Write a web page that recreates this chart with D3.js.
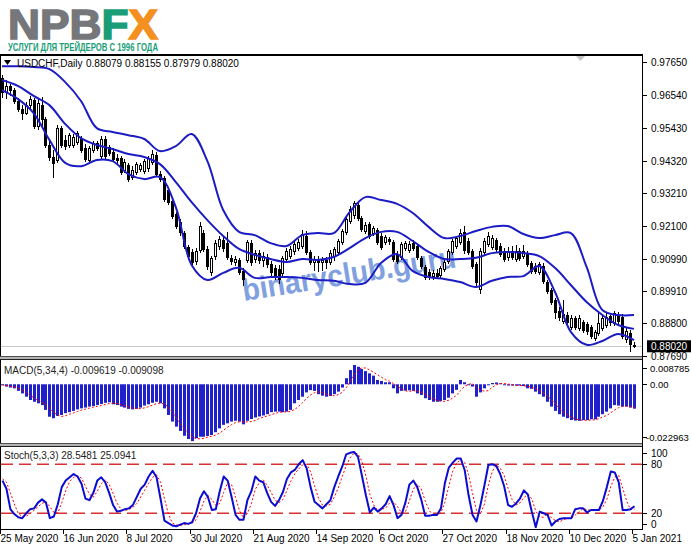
<!DOCTYPE html>
<html><head><meta charset="utf-8">
<script src="https://cdn.jsdelivr.net/npm/d3@7"></script>
<style>html,body{margin:0;padding:0;background:#fff;}svg{display:block;}</style>
</head><body><svg id="c" width="691" height="549"></svg>
<script>
// ---------- DATA ----------
const dateTickIdx = [0,16,32,48,64,80,96,112,128,144,160];
const dateTickLabels = ["25 May 2020","16 Jun 2020","8 Jul 2020","30 Jul 2020","21 Aug 2020","14 Sep 2020","6 Oct 2020","27 Oct 2020","18 Nov 2020","10 Dec 2020","5 Jan 2021"];
const priceTicks = [0.97650,0.96540,0.95430,0.94320,0.93210,0.92100,0.90990,0.89910,0.88800,0.87690];
const macdTicks = [0.008785,0.00,-0.022963];
const macdTickLabels = ["0.008785","0.00","-0.022963"];
const stochTicks = [100,80,20,0];
const stochLevels = [80,20];

const opens = [.9712,.9664,.9685,.9671,.9634,.9607,.9593,.9620,.9637,.9549,
.9620,.9573,.9485,.9444,.9434,.9542,.9502,.9485,.9485,.9495,
.9508,.9474,.9434,.9468,.9491,.9447,.9505,.9478,.9461,.9441,
.9441,.9400,.9417,.9376,.9393,.9403,.9396,.9407,.9427,.9451,
.9386,.9373,.9332,.9295,.9251,.9224,.9186,.9139,.9122,.9091,
.9129,.9186,.9132,.9054,.9108,.9142,.9163,.9152,.9102,.9088,
.9095,.9057,.9095,.9152,.9098,.9118,.9095,.9105,.9081,.9068,
.9064,.9051,.9098,.9108,.9125,.9135,.9142,.9176,.9122,.9088,
.9098,.9088,.9095,.9088,.9108,.9122,.9156,.9190,.9227,.9247,
.9281,.9237,.9193,.9217,.9186,.9196,.9176,.9156,.9166,.9156,
.9115,.9105,.9135,.9129,.9152,.9142,.9102,.9071,.9054,.9040,
.9051,.9044,.9064,.9091,.9122,.9142,.9156,.9190,.9159,.9125,
.9081,.8996,.9122,.9149,.9139,.9163,.9142,.9125,.9105,.9125,
.9098,.9125,.9108,.9118,.9085,.9074,.9054,.9074,.9020,.8993,
.8959,.8922,.8888,.8908,.8868,.8898,.8864,.8885,.8878,.8868,
.8830,.8847,.8864,.8874,.8905,.8881,.8908,.8902,.8827,.8847,
.88079];
const highs = [.9722,.9705,.9691,.9678,.9644,.9620,.9630,.9651,.9644,.9641,
.9647,.9580,.9498,.9468,.9552,.9549,.9518,.9525,.9522,.9532,
.9515,.9488,.9481,.9498,.9498,.9515,.9515,.9485,.9474,.9454,
.9447,.9437,.9424,.9413,.9427,.9424,.9437,.9447,.9468,.9461,
.9396,.9380,.9342,.9302,.9257,.9234,.9193,.9146,.9132,.9135,
.9224,.9196,.9142,.9108,.9163,.9176,.9173,.9190,.9112,.9108,
.9102,.9068,.9163,.9163,.9129,.9129,.9122,.9115,.9091,.9078,
.9078,.9108,.9135,.9142,.9159,.9166,.9196,.9193,.9129,.9108,
.9108,.9105,.9105,.9129,.9139,.9166,.9200,.9241,.9278,.9295,
.9288,.9244,.9224,.9224,.9210,.9203,.9186,.9179,.9173,.9163,
.9125,.9156,.9159,.9159,.9163,.9149,.9108,.9078,.9064,.9061,
.9064,.9074,.9095,.9132,.9166,.9176,.9200,.9210,.9169,.9132,
.9088,.9135,.9169,.9190,.9179,.9169,.9152,.9135,.9139,.9142,
.9146,.9135,.9146,.9125,.9091,.9085,.9088,.9085,.9027,.9000,
.8966,.8935,.8959,.8918,.8908,.8905,.8908,.8891,.8885,.8874,
.8857,.8915,.8905,.8918,.8915,.8922,.8918,.8912,.8864,.8857,
.88155];
const lows = [.9647,.9644,.9654,.9627,.9600,.9573,.9590,.9607,.9542,.9539,
.9546,.9478,.9434,.9376,.9427,.9478,.9471,.9478,.9478,.9488,
.9461,.9430,.9427,.9461,.9468,.9441,.9441,.9451,.9430,.9424,
.9386,.9393,.9363,.9369,.9386,.9396,.9390,.9396,.9420,.9380,
.9363,.9295,.9285,.9237,.9203,.9179,.9135,.9102,.9074,.9081,
.9122,.9125,.9064,.9044,.9098,.9132,.9125,.9098,.9081,.9078,
.9047,.9010,.9088,.9078,.9088,.9085,.9074,.9071,.9044,.9030,
.9017,.9040,.9088,.9102,.9115,.9129,.9135,.9115,.9081,.9061,
.9057,.9061,.9068,.9081,.9095,.9115,.9149,.9183,.9220,.9237,
.9230,.9193,.9186,.9169,.9179,.9149,.9132,.9149,.9149,.9091,
.9085,.9098,.9129,.9122,.9129,.9098,.9068,.9030,.9030,.9030,
.9034,.9037,.9057,.9085,.9115,.9135,.9149,.9118,.9115,.9068,
.9010,.8983,.9115,.9142,.9132,.9125,.9108,.9091,.9095,.9098,
.9091,.9095,.9102,.9074,.9051,.9051,.9047,.9017,.8983,.8946,
.8898,.8891,.8881,.8878,.8861,.8861,.8857,.8851,.8844,.8830,
.8823,.8840,.8857,.8868,.8874,.8874,.8881,.8830,.8817,.8786,
.87979];
const closes = [.9664,.9685,.9671,.9634,.9607,.9593,.9620,.9641,.9549,.9627,
.9573,.9485,.9444,.9424,.9542,.9485,.9481,.9518,.9512,.9525,
.9468,.9437,.9474,.9491,.9474,.9505,.9447,.9457,.9437,.9434,
.9393,.9427,.9369,.9400,.9420,.9417,.9430,.9441,.9454,.9386,
.9369,.9302,.9291,.9244,.9210,.9190,.9142,.9108,.9088,.9125,
.9210,.9132,.9074,.9102,.9152,.9166,.9135,.9105,.9091,.9098,
.9054,.9030,.9156,.9088,.9118,.9095,.9108,.9081,.9054,.9040,
.9030,.9102,.9125,.9132,.9149,.9156,.9183,.9122,.9088,.9098,
.9088,.9095,.9088,.9118,.9132,.9159,.9193,.9234,.9268,.9288,
.9237,.9200,.9213,.9176,.9203,.9156,.9139,.9173,.9159,.9098,
.9091,.9149,.9152,.9149,.9135,.9105,.9074,.9037,.9040,.9051,
.9040,.9068,.9088,.9125,.9159,.9169,.9186,.9129,.9122,.9074,
.9020,.9125,.9159,.9176,.9169,.9132,.9115,.9098,.9125,.9105,
.9125,.9102,.9125,.9081,.9057,.9057,.9081,.9024,.8990,.8952,
.8918,.8902,.8912,.8885,.8898,.8868,.8898,.8857,.8854,.8837,
.8851,.8881,.8898,.8902,.8885,.8915,.8888,.8837,.8854,.8810,
.88020];

// Bollinger bands read every 4th bar
const bandIdx = [0,4,8,12,16,20,24,28,32,36,40,44,48,52,56,60,64,68,72,76,80,84,88,92,96,100,104,108,112,116,120,124,128,132,136,140,144,148,152,156,160];
const bbUpper = [.9752,.9752,.9749,.9742,.9698,.9634,.9542,.9529,.9518,.9505,.9464,.9481,.9522,.9430,.9264,.9190,.9179,.9152,.9142,.9179,.9186,.9186,.9257,.9308,.9298,.9285,.9254,.9207,.9169,.9176,.9193,.9207,.9210,.9183,.9169,.9179,.9186,.9071,.8925,.8908,.8908];
const bbMiddle = [.9705,.9685,.9651,.9620,.9556,.9508,.9485,.9471,.9454,.9444,.9420,.9359,.9291,.9230,.9176,.9132,.9112,.9098,.9088,.9098,.9095,.9105,.9135,.9169,.9190,.9190,.9159,.9122,.9098,.9098,.9102,.9118,.9122,.9118,.9108,.9068,.9010,.8952,.8908,.8874,.8861];
const bbLower = [.9671,.9641,.9593,.9502,.9424,.9413,.9434,.9430,.9386,.9369,.9376,.9274,.9078,.9027,.9051,.9068,.9034,.9037,.9037,.9034,.9027,.9024,.9013,.9017,.9085,.9115,.9057,.9037,.9030,.9020,.9003,.9024,.9037,.9040,.9074,.8986,.8851,.8807,.8820,.8844,.8823];

const macdHist = [-0.0003,-0.0009,-0.0013,-0.0016,-0.0026,-0.0036,-0.0049,-0.0062,-0.0069,-0.0075,
-0.0082,-0.0101,-0.0128,-0.0134,-0.0125,-0.0121,-0.0114,-0.0110,-0.0105,-0.0099,
-0.0095,-0.0092,-0.0088,-0.0086,-0.0082,-0.0078,-0.0073,-0.0071,-0.0079,-0.0082,
-0.0088,-0.0092,-0.0097,-0.0099,-0.0097,-0.0092,-0.0084,-0.0079,-0.0073,-0.0069,
-0.0075,-0.0095,-0.0121,-0.0147,-0.0167,-0.0184,-0.0203,-0.0216,-0.0224,-0.0213,
-0.0207,-0.0207,-0.0204,-0.0200,-0.0189,-0.0174,-0.0160,-0.0154,-0.0147,-0.0144,
-0.0147,-0.0158,-0.0144,-0.0137,-0.0131,-0.0127,-0.0123,-0.0118,-0.0110,-0.0108,
-0.0108,-0.0110,-0.0108,-0.0101,-0.0075,-0.0062,-0.0049,-0.0032,-0.0023,-0.0026,
-0.0039,-0.0045,-0.0049,-0.0046,-0.0039,-0.0029,-0.0013,0.0024,0.0056,0.0076,
0.0069,0.0060,0.0052,0.0043,0.0034,0.0017,0.0013,0.0008,0.0008,-0.0016,
-0.0036,-0.0026,-0.0025,-0.0024,-0.0026,-0.0036,-0.0042,-0.0055,-0.0062,-0.0069,
-0.0069,-0.0066,-0.0062,-0.0053,-0.0036,-0.0022,0.0017,0.0008,-0.0003,-0.0009,
-0.0049,-0.0032,-0.0016,-0.0003,0.0005,0.0007,0.0004,-0.0003,-0.0005,-0.0005,
-0.0005,-0.0005,-0.0007,-0.0016,-0.0018,-0.0029,-0.0039,-0.0049,-0.0069,-0.0088,
-0.0105,-0.0118,-0.0128,-0.0134,-0.0141,-0.0143,-0.0144,-0.0141,-0.0141,-0.0138,
-0.0138,-0.0128,-0.0118,-0.0108,-0.0095,-0.0082,-0.0084,-0.0088,-0.0088,-0.0092,
-0.009619];
const macdSignal = [-0.0002,-0.0005,-0.0008,-0.0010,-0.0016,-0.0023,-0.0032,-0.0043,-0.0054,-0.0064,
-0.0072,-0.0082,-0.0097,-0.0111,-0.0122,-0.0127,-0.0124,-0.0118,-0.0113,-0.0107,
-0.0102,-0.0098,-0.0094,-0.0090,-0.0087,-0.0084,-0.0080,-0.0076,-0.0075,-0.0076,
-0.0080,-0.0085,-0.0090,-0.0094,-0.0096,-0.0096,-0.0093,-0.0088,-0.0082,-0.0076,
-0.0074,-0.0078,-0.0090,-0.0110,-0.0133,-0.0155,-0.0175,-0.0193,-0.0207,-0.0214,
-0.0215,-0.0213,-0.0208,-0.0205,-0.0200,-0.0192,-0.0181,-0.0169,-0.0159,-0.0151,
-0.0148,-0.0149,-0.0148,-0.0147,-0.0143,-0.0135,-0.0130,-0.0125,-0.0120,-0.0115,
-0.0111,-0.0109,-0.0109,-0.0107,-0.0099,-0.0087,-0.0072,-0.0055,-0.0042,-0.0033,
-0.0030,-0.0033,-0.0039,-0.0045,-0.0045,-0.0041,-0.0032,-0.0014,0.0010,0.0036,
0.0056,0.0065,0.0064,0.0056,0.0047,0.0037,0.0027,0.0018,0.0012,0.0003,
-0.0009,-0.0018,-0.0026,-0.0028,-0.0025,-0.0028,-0.0032,-0.0039,-0.0049,-0.0057,
-0.0064,-0.0067,-0.0067,-0.0063,-0.0054,-0.0043,-0.0024,-0.0008,0.0000,0.0003,
-0.0013,-0.0023,-0.0027,-0.0025,-0.0012,-0.0002,0.0003,0.0003,0.0001,-0.0002,
-0.0005,-0.0005,-0.0006,-0.0008,-0.0012,-0.0018,-0.0026,-0.0034,-0.0047,-0.0061,
-0.0078,-0.0095,-0.0110,-0.0121,-0.0130,-0.0137,-0.0140,-0.0142,-0.0142,-0.0141,
-0.0140,-0.0136,-0.0128,-0.0123,-0.0112,-0.0101,-0.0092,-0.0087,-0.0086,-0.0088,
-0.009098];

const stochMain = [60,50,25,19,15,14,20,25,26,33,
37,33,14,16,31,52,60,64,68,65,
56,38,36,45,60,64,58,45,30,22,
23,25,26,30,40,50,55,65,72,64,
38,11,8,5,4,6,8,7,9,20,
38,47,40,24,25,47,65,60,40,18,
12,12,36,47,65,60,58,45,34,29,
36,46,62,70,73,80,85,75,52,34,
30,26,31,36,52,65,77,92,94,95,
89,66,42,21,27,22,26,31,41,30,
14,18,33,55,60,52,37,17,17,18,
18,26,57,76,82,87,87,73,42,18,
10,30,54,79,80,78,68,53,30,28,
32,38,48,43,22,3,22,20,18,5,
10,13,14,14,14,25,26,26,21,24,
24,24,35,52,71,70,58,24,24,25,
28.5481];
const stochSignal = [62,58,45,31.3,19.7,16,16.3,19.7,23.7,28,
32,34.3,28,21,20.3,33,47.7,58.7,64,65.7,
63,53,43.3,39.7,47,56.3,60.7,55.7,44.3,32.3,
25,23.3,24.7,27,32,40,48.3,56.7,64,67,
58,37.7,19,8,5.7,5,6,7,8,12,
22.3,35,41.7,37,29.7,32,45.7,57.3,55,39.3,
23.3,14,20,31.7,49.3,57.3,61,54.3,45.7,36,
33,37,48,59.3,68.3,74.3,79.3,80,70.7,53.7,
38.7,30,29,31,39.7,51,64.7,78,87.7,93.7,
92.7,83.3,65.7,43,30,23.3,25,26.3,32.7,34,
28.3,20.7,21.7,35.3,49.3,55.7,49.7,35.3,23.7,17.3,
17.7,20.7,33.7,53,71.7,81.7,85.3,82.3,67.3,44.3,
23.3,19.3,31.3,54.3,71,79,75.3,66.3,50.3,37,
30,32.7,39.3,43,37.7,22.7,15.7,15,20,14.3,
11,9.3,12.3,13.7,14,17.7,21.7,25.7,24.3,23.7,
23,24,27.7,37,52.7,64.3,66.3,50.7,35.3,24.3,
25.0941];

// ---------- DRAWING ----------
const FONT = "'Liberation Sans', Arial, sans-serif";
const svg = d3.select('#c').attr('font-family', FONT);
const RIGHT = 642;
const bars = d3.range(opens.length);
const x = d3.scaleLinear().domain([0, 160]).range([2, 634]);
const yP = d3.scaleLinear().domain([0.87656, 0.97900]).range([357, 55]);
const yM = d3.scaleLinear().domain([-0.022963, 0.008785]).range([442.5, 362]);
const yS = d3.scaleLinear().domain([0, 100]).range([529.6, 447.9]);

svg.append('rect').attr('width', 691).attr('height', 549).attr('fill', '#fff');

// Logo
const logo = svg.append('text').attr('x', 8).attr('y', 38.5)
  .attr('font-size', 42).attr('font-weight', 'bold')
  .attr('textLength', 150).attr('lengthAdjust', 'spacingAndGlyphs');
logo.append('tspan').text('NPB').attr('fill', '#75777a').attr('stroke', '#75777a').attr('stroke-width', 1.5);
logo.append('tspan').text('F').attr('fill', '#1b9e77').attr('stroke', '#1b9e77').attr('stroke-width', 1.5);
logo.append('tspan').text('X').attr('fill', '#f39020').attr('stroke', '#f39020').attr('stroke-width', 1.5);
svg.append('text').attr('x', 8).attr('y', 51).attr('font-size', 10).attr('font-weight', 'bold')
  .attr('fill', '#1b9e77').attr('textLength', 150).attr('lengthAdjust', 'spacingAndGlyphs')
  .text('УСЛУГИ ДЛЯ ТРЕЙДЕРОВ С 1996 ГОДА');

// Clip for main
svg.append('clipPath').attr('id', 'cm').append('rect').attr('x', 1).attr('y', 56).attr('width', RIGHT - 1).attr('height', 299);

// Current price line
svg.append('line').attr('x1', 0).attr('x2', RIGHT).attr('y1', Math.round(yP(0.88020)) + 0.5).attr('y2', Math.round(yP(0.88020)) + 0.5)
  .attr('stroke', '#c8c8c8');

// Watermark
svg.append('text').attr('transform', 'translate(244,301) rotate(-9)')
  .attr('font-size', 31).attr('font-weight', 'bold').attr('fill', '#7094dc').attr('opacity', 0.88)
  .attr('textLength', 216).attr('lengthAdjust', 'spacingAndGlyphs').text('binaryclub.guru');

// Candles
const gC = svg.append('g').attr('clip-path', 'url(#cm)');
bars.forEach(i => {
  const xi = Math.round(x(i));
  const o = yP(opens[i]), c = yP(closes[i]), h = yP(highs[i]), l = yP(lows[i]);
  gC.append('line').attr('x1', xi + 0.5).attr('x2', xi + 0.5).attr('y1', Math.round(h)).attr('y2', Math.round(l) + 1)
    .attr('stroke', '#000');
  const top = Math.round(Math.min(o, c)), bot = Math.round(Math.max(o, c));
  gC.append('rect').attr('x', xi - 0.5).attr('y', top + 0.5).attr('width', 2).attr('height', Math.max(0, bot - top))
    .attr('fill', closes[i] >= opens[i] ? '#fff' : '#000').attr('stroke', '#000').attr('stroke-width', 1);
});

// Bollinger bands
const bandLine = d3.line().x(d => x(d[0])).y(d => yP(d[1])).curve(d3.curveCatmullRom.alpha(0.5));
[bbUpper, bbMiddle, bbLower].forEach(arr => {
  gC.append('path').attr('d', bandLine(bandIdx.map((b, k) => [b, arr[k]])))
    .attr('fill', 'none').attr('stroke', '#1c1cc4').attr('stroke-width', 2);
});

// Title in main
svg.append('path').attr('d', 'M4,60 L11,60 L7.5,65 Z').attr('fill', '#000');
svg.append('text').attr('x', 17).attr('y', 67).attr('font-size', 10).attr('fill', '#000').text('USDCHF,Daily');
svg.append('text').attr('x', 86).attr('y', 67).attr('font-size', 10).attr('fill', '#000').text('0.88079 0.88155 0.87979 0.88020');
svg.append('path').attr('d', 'M576,56 L585,56 L580.5,61 Z').attr('fill', '#c4c4c4');

// MACD histogram
const gM = svg.append('g');
bars.forEach(i => {
  const xi = Math.round(x(i));
  const y0 = yM(0), y1 = yM(macdHist[i]);
  gM.append('rect').attr('x', xi - 1).attr('width', 3)
    .attr('y', Math.min(y0, y1)).attr('height', Math.max(1, Math.abs(y1 - y0)))
    .attr('fill', '#2020cc');
});
const mLine = d3.line().x((d, i) => x(i) + 0.5).y(d => yM(d));
gM.append('path').attr('d', mLine(macdSignal)).attr('fill', 'none').attr('stroke', '#ff0000')
  .attr('stroke-width', 1).attr('stroke-dasharray', '2,2');
svg.append('text').attr('x', 4).attr('y', 374).attr('font-size', 10).attr('fill', '#222')
  .text('MACD(5,34,4) -0.009619 -0.009098');

// Stochastic
const gS = svg.append('g');
stochLevels.forEach(v => {
  gS.append('line').attr('x1', 1).attr('x2', RIGHT).attr('y1', yS(v)).attr('y2', yS(v))
    .attr('stroke', '#d83030').attr('stroke-width', 1.6).attr('stroke-dasharray', '12,6');
});
const sLine = d3.line().x((d, i) => x(i) + 0.5).y(d => yS(d));
gS.append('path').attr('d', sLine(stochSignal)).attr('fill', 'none').attr('stroke', '#ff0000')
  .attr('stroke-width', 1).attr('stroke-dasharray', '2,2');
gS.append('path').attr('d', sLine(stochMain)).attr('fill', 'none').attr('stroke', '#0c0cd0')
  .attr('stroke-width', 2).attr('stroke-linejoin', 'round');
svg.append('text').attr('x', 4).attr('y', 459).attr('font-size', 10).attr('fill', '#222')
  .text('Stoch(5,3,3) 28.5481 25.0941');

// Frames & separators
svg.append('line').attr('x1', 0).attr('x2', RIGHT + 1).attr('y1', 55).attr('y2', 55).attr('stroke', '#000').attr('stroke-width', 2);
svg.append('line').attr('x1', 0.5).attr('x2', 0.5).attr('y1', 54).attr('y2', 530).attr('stroke', '#000');
[[356, 360], [443, 447]].forEach(([a, b]) => {
  svg.append('rect').attr('x', 0).attr('y', a).attr('width', RIGHT + 1).attr('height', b - a).attr('fill', '#b4b4b4');
  svg.append('line').attr('x1', 0).attr('x2', RIGHT + 1).attr('y1', a + 0.5).attr('y2', a + 0.5).attr('stroke', '#505050');
  svg.append('line').attr('x1', 0).attr('x2', RIGHT + 1).attr('y1', b - 0.5).attr('y2', b - 0.5).attr('stroke', '#202020');
});
svg.append('line').attr('x1', 0).attr('x2', RIGHT + 1).attr('y1', 529.5).attr('y2', 529.5).attr('stroke', '#000');
svg.append('line').attr('x1', RIGHT + 0.5).attr('x2', RIGHT + 0.5).attr('y1', 54).attr('y2', 530).attr('stroke', '#000');

// Price axis
const axP = svg.append('g');
priceTicks.forEach(v => {
  const yy = Math.round(yP(v)) + 0.5;
  axP.append('line').attr('x1', RIGHT + 1).attr('x2', RIGHT + 5).attr('y1', yy).attr('y2', yy).attr('stroke', '#000');
  axP.append('text').attr('x', 651).attr('y', yy + 3.5).attr('font-size', 10).attr('fill', '#000').text(d3.format('.5f')(v));
});
const cy = yP(0.88020);
svg.append('rect').attr('x', 647).attr('y', cy - 6).attr('width', 44).attr('height', 12).attr('fill', '#000');
svg.append('text').attr('x', 651).attr('y', cy + 3.5).attr('font-size', 10).attr('fill', '#fff').text('0.88020');

// MACD axis
macdTicks.forEach((v, k) => {
  let yy = yM(v);
  if (k === 0) yy += 6; if (k === 2) yy -= 5.5;
  yy = Math.round(yy) + 0.5;
  svg.append('line').attr('x1', RIGHT + 1).attr('x2', RIGHT + 5).attr('y1', yy).attr('y2', yy).attr('stroke', '#000');
  svg.append('text').attr('x', v < 0 ? 646 : 650).attr('y', yy + 3.5).attr('font-size', 9.5).attr('fill', '#000')
    .text(macdTickLabels[k]);
});

// Stoch axis
stochTicks.forEach(v => {
  let yy = yS(v);
  if (v === 100) yy += 5; if (v === 0) yy -= 6;
  yy = Math.round(yy) + 0.5;
  svg.append('line').attr('x1', RIGHT + 1).attr('x2', RIGHT + 5).attr('y1', yy).attr('y2', yy).attr('stroke', '#000');
  svg.append('text').attr('x', 651).attr('y', yy + 3.5).attr('font-size', 10).attr('fill', '#000').text(v);
});

// Date axis
dateTickIdx.forEach((b, k) => {
  const xx = Math.round(x(b)) - 2 + 0.5;
  svg.append('line').attr('x1', xx).attr('x2', xx).attr('y1', 530).attr('y2', 534).attr('stroke', '#000');
  svg.append('text').attr('x', xx).attr('y', 542).attr('font-size', 10).attr('fill', '#000').text(dateTickLabels[k]);
});
</script></body></html>
